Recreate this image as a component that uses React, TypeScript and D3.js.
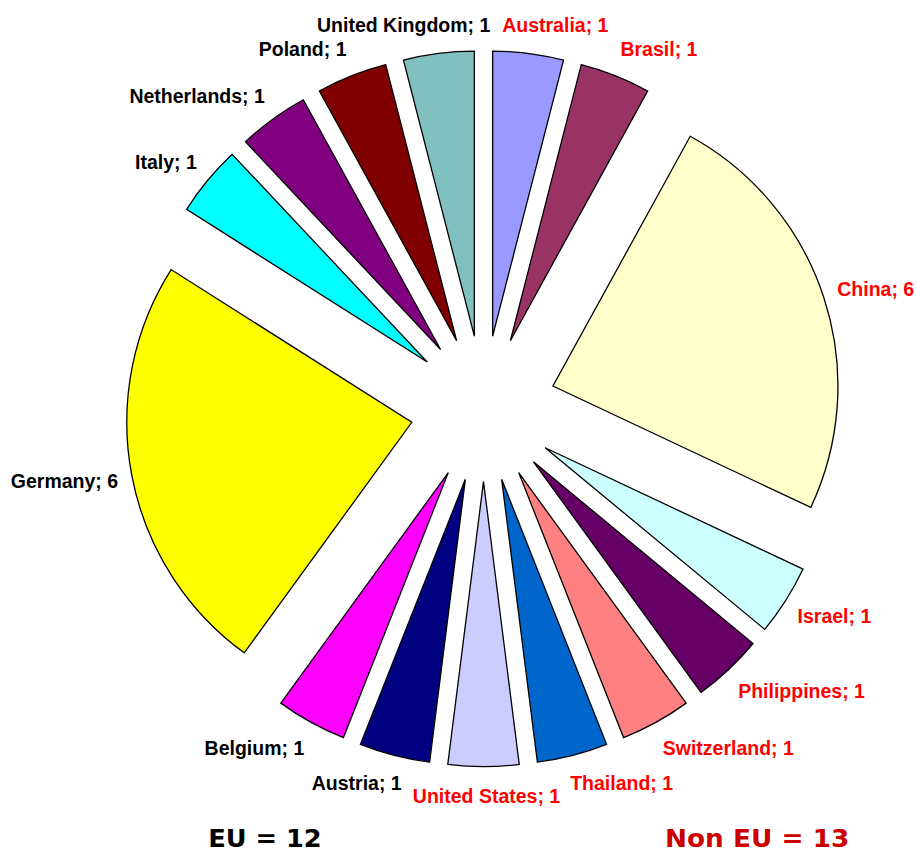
import React, { useEffect } from 'react';
import * as d3 from 'd3';

// ---------- data ----------
const countries = [
  'Australia', 'Brasil', 'China', 'Israel', 'Philippines', 'Switzerland', 'Thailand',
  'United States', 'Austria', 'Belgium', 'Germany', 'Italy', 'Netherlands', 'Poland',
  'United Kingdom',
];
const counts = [1, 1, 6, 1, 1, 1, 1, 1, 1, 1, 6, 1, 1, 1, 1];
const inEU = [false, false, false, false, false, false, false, false, true, true, true, true, true, true, true];
const sliceColors = [
  '#9999FF', '#993366', '#FFFFCC', '#CCFFFF', '#660066', '#FF8080', '#0066CC',
  '#CCCCFF', '#000080', '#FF00FF', '#FFFF00', '#00FFFF', '#800080', '#800000',
  '#80C0C0',
];
const summaryNames = ['EU', 'Non EU'];

// ---------- layout ----------
const W = 916;
const H = 854;
const CX = 483.5;
const CY = 408.6;
const R = 285;
const EXPLODE = 73;
const LABEL_SIZE = 19.5;
const LABEL_FONT = '"Liberation Sans", Arial, Helvetica, sans-serif';

let ctx: CanvasRenderingContext2D | null = null;
function textWidth(t: string): number {
  if (!ctx) {
    const c = document.createElement('canvas');
    ctx = c.getContext('2d');
  }
  if (!ctx) return t.length * LABEL_SIZE * 0.6;
  ctx.font = `bold ${LABEL_SIZE}px "Liberation Sans"`;
  return ctx.measureText(t).width;
}

export default function App() {
  useEffect(() => {
    document.body.style.margin = '0';
  }, []);

  const arcs = d3.pie<number>().sort(null).value((d) => d).startAngle(0).endAngle(2 * Math.PI)(counts);
  const arcGen = d3.arc<d3.PieArcDatum<number>>().innerRadius(0).outerRadius(R);

  const euTotal = d3.sum(counts.filter((_, i) => inEU[i]));
  const nonEuTotal = d3.sum(counts.filter((_, i) => !inEU[i]));

  return (
    <svg width={W} height={H} style={{ position: 'absolute', left: 0, top: 0, background: '#fff' }}>
      <rect x={0} y={0} width={W} height={H} fill="#fff" />
      {arcs.map((a, i) => {
        const mid = (a.startAngle + a.endAngle) / 2;
        const s = Math.sin(mid);
        const c = Math.cos(mid);
        const ox = CX + EXPLODE * s;
        const oy = CY - EXPLODE * c;
        return (
          <path
            key={'s' + i}
            d={arcGen(a) || ''}
            transform={`translate(${ox},${oy})`}
            fill={sliceColors[i]}
            stroke="#000"
            strokeWidth={1.3}
            strokeLinejoin="miter"
          />
        );
      })}
      {arcs.map((a, i) => {
        const mid = (a.startAngle + a.endAngle) / 2;
        const s = Math.sin(mid);
        const c = Math.cos(mid);
        const px = CX + (R + EXPLODE) * s;
        const py = CY - (R + EXPLODE) * c;
        const label = `${countries[i]}; ${counts[i]}`;
        const w = textWidth(label);
        const f = Math.max(-1, Math.min(1, s / 0.3));
        const x = px + s * 14 + (f * w) / 2 + (Math.abs(f) < 1 ? 3 : 0);
        const y = py - c * 29 + 7;
        return (
          <text
            key={'l' + i}
            x={x}
            y={y}
            textAnchor="middle"
            fontFamily={LABEL_FONT}
            fontWeight="bold"
            fontSize={LABEL_SIZE}
            fill={inEU[i] ? '#000' : '#FF0000'}
          >
            {label}
          </text>
        );
      })}
      <text
        x={208.3}
        y={847}
        fontFamily='"DejaVu Sans Condensed", "DejaVu Sans", sans-serif'
        fontWeight="bold"
        fontSize={25.5}
        fill="#000"
        textLength={113.4}
        lengthAdjust="spacingAndGlyphs"
      >
        {`${summaryNames[0]} = ${euTotal}`}
      </text>
      <text
        x={665}
        y={847}
        fontFamily='"DejaVu Sans Condensed", "DejaVu Sans", sans-serif'
        fontWeight="bold"
        fontSize={25.5}
        fill="#CC0000"
        textLength={184.3}
        lengthAdjust="spacingAndGlyphs"
      >
        {`${summaryNames[1]} = ${nonEuTotal}`}
      </text>
    </svg>
  );
}
